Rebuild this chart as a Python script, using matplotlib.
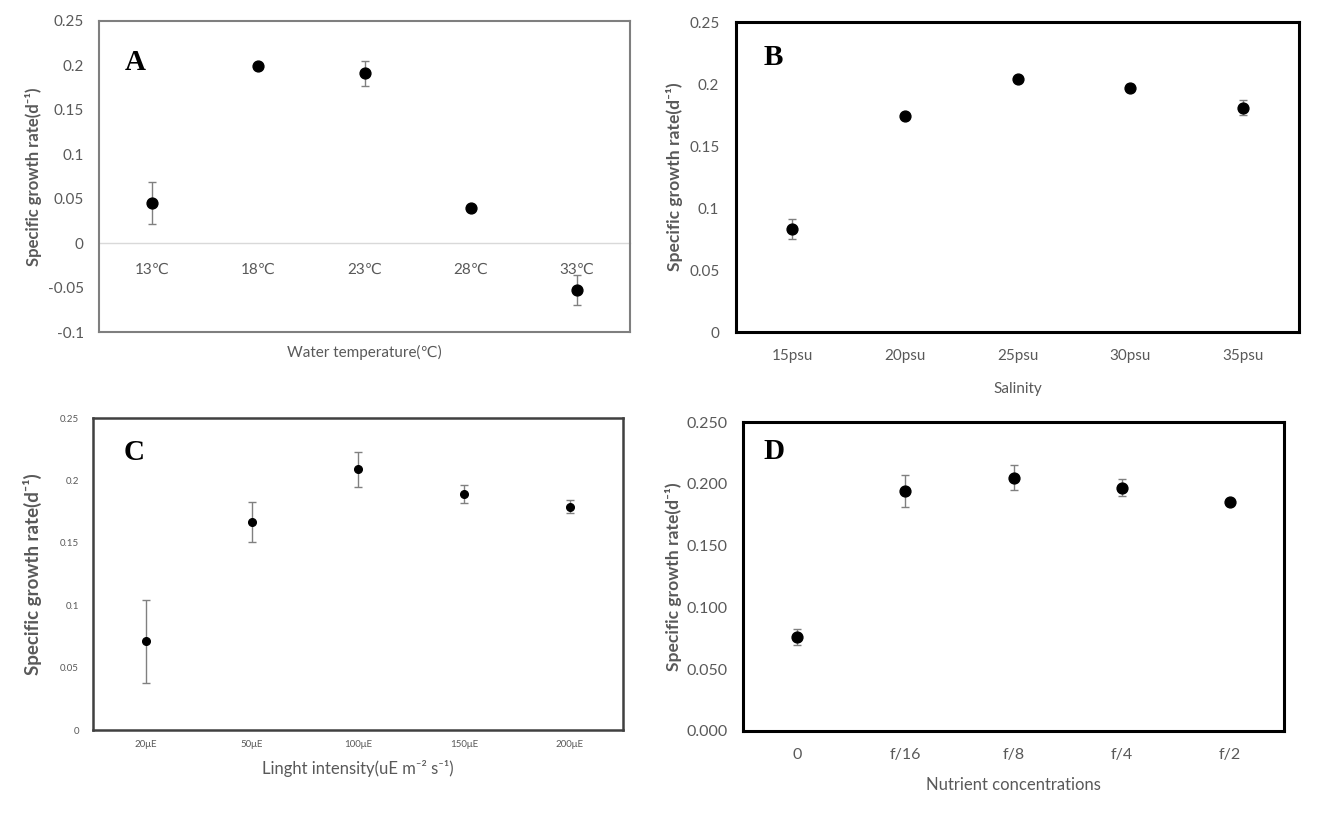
import matplotlib
matplotlib.use("Agg")
import matplotlib.pyplot as plt

plt.rcParams['font.family'] = ['Lato', 'DejaVu Sans']

# ---- data ----
temp_labels = ["13\u2103", "18\u2103", "23\u2103", "28\u2103", "33\u2103"]
temp_rate = [0.045, 0.199, 0.191, 0.039, -0.053]
temp_err = [0.024, 0.0, 0.014, 0.0, 0.017]

sal_labels = ["15psu", "20psu", "25psu", "30psu", "35psu"]
sal_rate = [0.083, 0.174, 0.204, 0.197, 0.181]
sal_err = [0.008, 0.0, 0.0, 0.003, 0.006]

light_labels = ["20\u03bcE", "50\u03bcE", "100\u03bcE", "150\u03bcE", "200\u03bcE"]
light_rate = [0.071, 0.167, 0.209, 0.189, 0.179]
light_err = [0.033, 0.016, 0.014, 0.007, 0.0055]

nut_labels = ["0", "f/16", "f/8", "f/4", "f/2"]
nut_rate = [0.076, 0.194, 0.205, 0.197, 0.185]
nut_err = [0.0065, 0.013, 0.010, 0.0065, 0.002]

W, H = 1338, 819
fig = plt.figure(figsize=(W / 100, H / 100), dpi=100)
TXT = '#595959'


def add_ax(l, r, t, b):
    return fig.add_axes([l / W, (H - b) / H, (r - l) / W, (b - t) / H])


def style(ax, labels, rate, err, ylim, yticks, yfmt, spine_c, spine_w,
          tick_fs, ypad, xpad, xlabel, xlab_fs, xlab_y, ylabel, ylab_fs, ylab_x,
          letter, lx, ly, ms, zero_axis=False):
    x = list(range(len(labels)))
    ax.errorbar(x, rate, yerr=err, fmt='o', color='black', markersize=ms,
                ecolor='#808080', elinewidth=1.0, capsize=3, capthick=1.0, zorder=3)
    ax.set_xlim(-0.5, len(labels) - 0.5)
    ax.set_ylim(*ylim)
    ax.set_yticks(yticks)
    ax.set_yticklabels([yfmt(v) for v in yticks])
    ax.tick_params(axis='y', length=0, pad=ypad, labelsize=tick_fs, labelcolor=TXT)
    for s in ax.spines.values():
        s.set_color(spine_c)
        s.set_linewidth(spine_w)
    if zero_axis:
        ax.set_xticks([])
        loc = (0 - ylim[0]) / (ylim[1] - ylim[0])
        sec = ax.secondary_xaxis(loc)
        sec.set_xticks(x)
        sec.set_xticklabels(labels)
        sec.spines['bottom'].set_color('#d9d9d9')
        sec.spines['bottom'].set_linewidth(1.0)
        sec.tick_params(length=0, pad=xpad, labelsize=tick_fs, labelcolor=TXT)
    else:
        ax.set_xticks(x)
        ax.set_xticklabels(labels)
        ax.tick_params(axis='x', length=0, pad=xpad, labelsize=tick_fs, labelcolor=TXT)
    ax.set_xlabel(xlabel, fontsize=xlab_fs, color=TXT)
    ax.xaxis.set_label_coords(0.5, xlab_y)
    ax.set_ylabel(ylabel, fontsize=ylab_fs, color=TXT, fontweight='bold')
    ax.yaxis.set_label_coords(ylab_x, 0.5)
    ax.text(lx, ly, letter, transform=ax.transAxes, ha='center', va='center',
            fontsize=21, fontweight='bold', family='Liberation Serif', color='black')


ylab = "Specific growth rate(d\u207b\u00b9)"

axA = add_ax(99, 630, 21, 332)
style(axA, temp_labels, temp_rate, temp_err, (-0.1, 0.25),
      [-0.1, -0.05, 0, 0.05, 0.1, 0.15, 0.2, 0.25], lambda v: f"{v:g}",
      '#7f7f7f', 1.5, 11, 11, 14, "Water temperature(\u2103)", 11, -0.04,
      ylab, 12, -0.108, "A", 0.068, 0.868, 7.8, zero_axis=True)

axB = add_ax(736, 1299, 22, 332)
style(axB, sal_labels, sal_rate, sal_err, (0, 0.25),
      [0, 0.05, 0.1, 0.15, 0.2, 0.25], lambda v: f"{v:g}",
      'black', 2.2, 11, 12, 12.5, "Salinity", 11, -0.16,
      ylab, 12.6, -0.094, "B", 0.067, 0.884, 7.8)

axC = add_ax(93, 623, 418, 730)
style(axC, light_labels, light_rate, light_err, (0, 0.25),
      [0, 0.05, 0.1, 0.15, 0.2, 0.25], lambda v: f"{v:g}",
      '#404040', 1.8, 7, 10, 7, "Linght intensity(uE m\u207b\u00b2 s\u207b\u00b9)", 12, -0.095,
      ylab, 13.5, -0.096, "C", 0.077, 0.891, 5.5)

axD = add_ax(743, 1284, 422, 731)
style(axD, nut_labels, nut_rate, nut_err, (0, 0.25),
      [0, 0.05, 0.1, 0.15, 0.2, 0.25], lambda v: f"{v:.3f}",
      'black', 2.2, 11.5, 11, 12, "Nutrient concentrations", 12, -0.15,
      ylab, 12.6, -0.112, "D", 0.057, 0.903, 7.8)

fig.savefig("out.png", dpi=100)
